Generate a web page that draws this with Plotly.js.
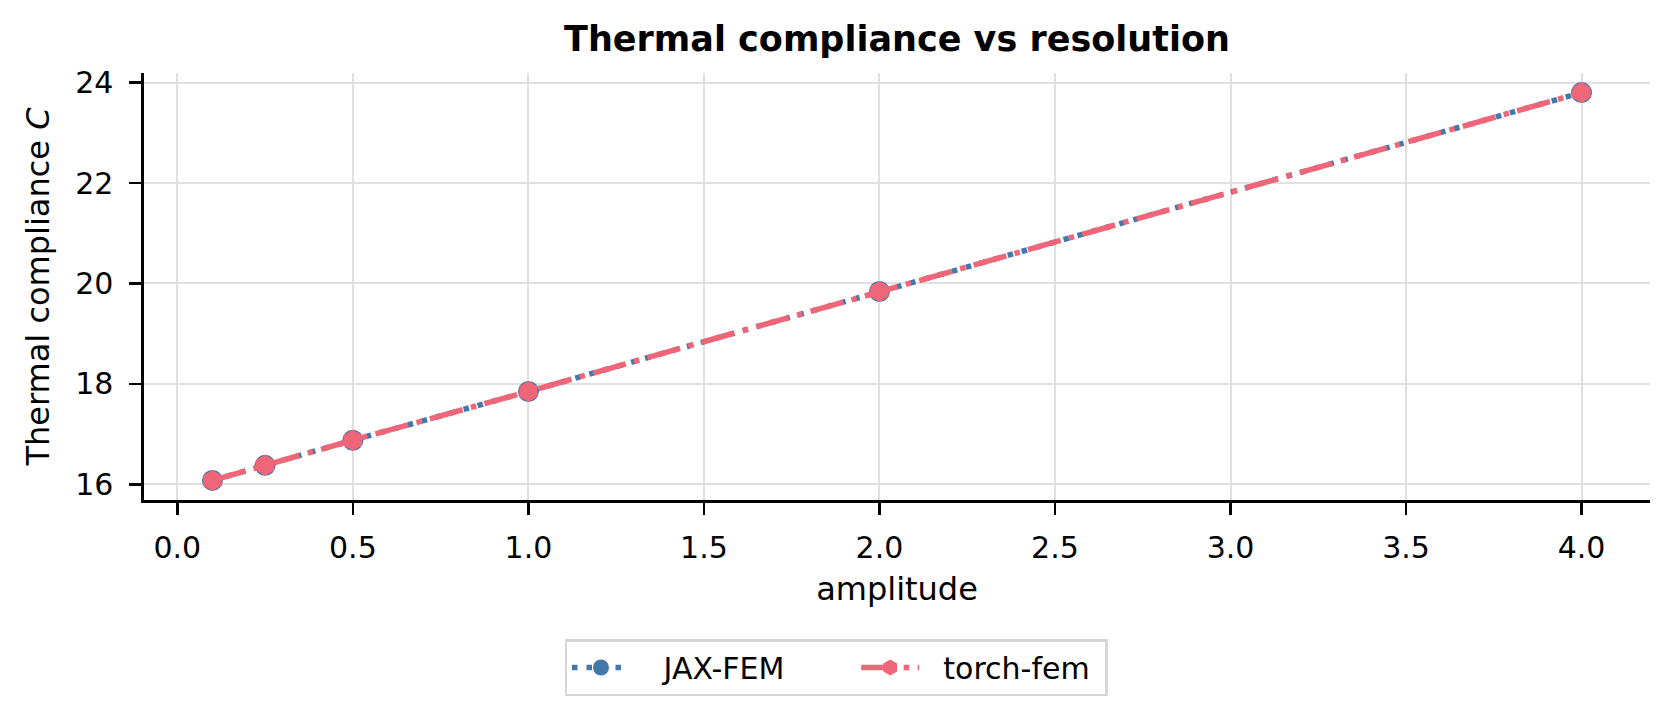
<!DOCTYPE html>
<html>
<head>
<meta charset="utf-8">
<script src="https://cdn.plot.ly/plotly-3.0.1.min.js"></script>
<style>
  html, body { margin: 0; padding: 0; background: #fff; }
  #chart { width: 1672px; height: 712px; }
</style>
</head>
<body>
<div id="chart"></div>
<script>
// amplitude sweep, thermal compliance from both solvers
const amplitude = [0.1, 0.25, 0.5, 1.0, 2.0, 4.0];
const jaxFem = [16.08, 16.38, 16.88, 17.85, 19.84, 23.80];
const torchFem = [16.08, 16.38, 16.88, 17.85, 19.84, 23.80];
const xTicks = [0, 0.5, 1.0, 1.5, 2.0, 2.5, 3.0, 3.5, 4.0];
const yTicks = [16, 18, 20, 22, 24];
const seriesNames = ['JAX-FEM', 'torch-fem'];

const FONT = 'DejaVu Sans, sans-serif';
const BLUE = '#4477AA';
const RED = '#EE6677';
const NB = '\u00a0';

const traces = [
    {
        x: amplitude,
        y: jaxFem,
        // padding spaces mimic matplotlib handle/label spacing
        name: NB.repeat(3) + seriesNames[0] + NB.repeat(7),
        type: 'scatter',
        mode: 'lines+markers',
        line: { color: BLUE, width: 5.5, dash: '5.5px,9px' },
        marker: { symbol: 'circle', size: 21, color: BLUE, line: { width: 0 } }
    },
    {
        x: amplitude,
        y: torchFem,
        name: NB.repeat(2) + seriesNames[1] + NB,
        type: 'scatter',
        mode: 'lines+markers',
        line: { color: RED, width: 5.5, dash: '34px,8.5px,5.5px,8.5px' },
        marker: { symbol: 'hexagon', size: 21, color: RED, line: { width: 0 } }
    }
];

const layout = {
    width: 1672,
    height: 712,
    paper_bgcolor: '#fff',
    plot_bgcolor: '#fff',
    font: { family: FONT, size: 30, color: '#000' },
    margin: { l: 144, r: 22, t: 73, b: 212 },
    title: {
        text: '<b>Thermal compliance vs resolution</b>',
        font: { family: FONT, size: 35, color: '#000' },
        x: 0.5,
        xref: 'paper',
        y: 1 - 39 / 712,
        yref: 'container',
        yanchor: 'middle'
    },
    xaxis: {
        range: [-0.095, 4.195],
        tickvals: xTicks,
        tickformat: '.1f',
        showgrid: true,
        gridcolor: '#e0e0e0',
        gridwidth: 2,
        zeroline: false,
        showline: true,
        linecolor: '#000',
        linewidth: 2.6,
        mirror: false,
        ticks: 'outside',
        ticklen: 12,
        tickwidth: 2.4,
        tickcolor: '#000',
        ticklabelstandoff: 7,
        tickfont: { size: 30 },
        title: { text: 'amplitude', font: { size: 32 }, standoff: 14 }
    },
    yaxis: {
        range: [15.69, 24.19],
        tickvals: yTicks,
        showgrid: true,
        gridcolor: '#e0e0e0',
        gridwidth: 2,
        zeroline: false,
        showline: true,
        linecolor: '#000',
        linewidth: 2.6,
        mirror: false,
        ticks: 'outside',
        ticklen: 12,
        tickwidth: 2.4,
        tickcolor: '#000',
        ticklabelstandoff: 10,
        tickfont: { size: 30 },
        title: { text: 'Thermal compliance <i>C</i>', font: { size: 32 }, standoff: 16 }
    },
    showlegend: true,
    legend: {
        orientation: 'h',
        x: 0.5,
        xref: 'container',
        xanchor: 'center',
        y: 1 - 639 / 712,
        yref: 'container',
        yanchor: 'top',
        bgcolor: '#fff',
        bordercolor: '#d6d6d6',
        borderwidth: 2.5,
        font: { family: FONT, size: 30, color: '#000' },
        itemwidth: 58,
        tracegroupgap: 0
    }
};

Plotly.newPlot('chart', traces, layout, { displayModeBar: false, staticPlot: true });
</script>
</body>
</html>
